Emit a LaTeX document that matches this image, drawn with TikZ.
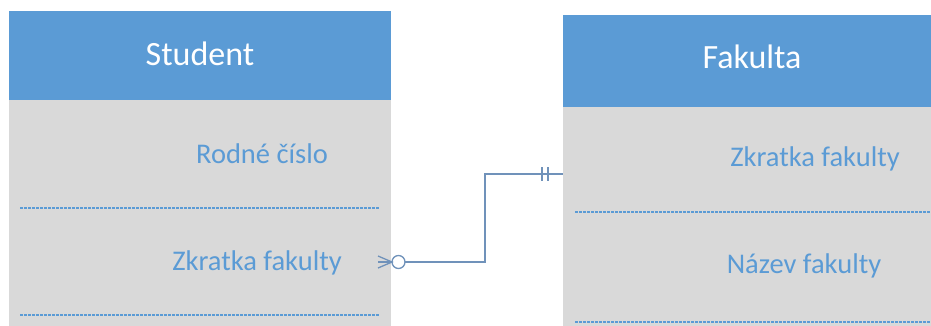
\documentclass[tikz,border=0pt]{standalone}
\usepackage{fontspec}
\setmainfont{Carlito}
\usepackage{tikz}
\usetikzlibrary{calc}

\definecolor{headblue}{RGB}{91,155,213}
\definecolor{bodygray}{RGB}{217,217,217}
\definecolor{relblue}{RGB}{112,146,186}

\begin{document}
\begin{tikzpicture}
[x=1pt,y=1pt]
\tikzset{head/.style={rectangle,fill=headblue,inner sep=0pt,minimum width=382pt,minimum height=89pt},
body/.style={rectangle,fill=bodygray,inner sep=0pt,minimum width=382pt,minimum height=240pt},
title/.style={text=white,font=\fontsize{34}{40}\selectfont,anchor=base},
attr/.style={text=headblue,font=\fontsize{28.5}{34}\selectfont,anchor=base},
sep/.style={draw=headblue,line width=1.4pt,dash pattern=on 2.5pt off 1.5pt},
rel/.style={draw=relblue,line width=1.3pt}}
\useasboundingbox (0,0) rectangle (931,-325);
\clip (0,0) rectangle (931,-325);

% Student
\node [head] (shead) at (200,-55.5) {};
\node [body] (sbody) at (200,-220) {};
\node [title] (stitle) at (200,-65) {Student};
\node [attr] (src) at (262,-163) {Rodné číslo};
\node [attr] (szk) at (257,-270) {Zkratka fakulty};
\draw [sep] (20,-208) -- (380,-208);
\draw [sep] (20,-315) -- (380,-315);

% Fakulta
\node [head,minimum width=397pt,minimum height=92pt] (fhead) at (761.5,-61) {};
\node [body,minimum width=397pt,minimum height=233pt] (fbody) at (761.5,-223.5) {};
\node [title] (ftitle) at (752,-68) {Fakulta};
\node [attr] (fzk) at (815,-166) {Zkratka fakulty};
\node [attr] (fnf) at (804,-273) {Název fakulty};
\draw [sep] (575,-212) -- (940,-212);
\draw [sep] (575,-322) -- (940,-322);

% relationship
\coordinate (cf) at (378,-262);
\coordinate (cft) at (392,-262);
\coordinate (o) at (398.5,-262);
\coordinate (fk) at (fbody.west |- 0,-174);
\draw [rel] (cf) -- (cft);
\draw [rel] ($(cf)+(0,6)$) -- (cft) -- ($(cf)+(0,-6)$);
\draw [rel] (o) circle (6.5);
\draw [rel] (o) ++(6.5,0) -- (485,-262) |- (fk);
\foreach \x in {542,548}
	\draw [rel] (\x,-167) -- (\x,-181);

\end{tikzpicture}
\end{document}
